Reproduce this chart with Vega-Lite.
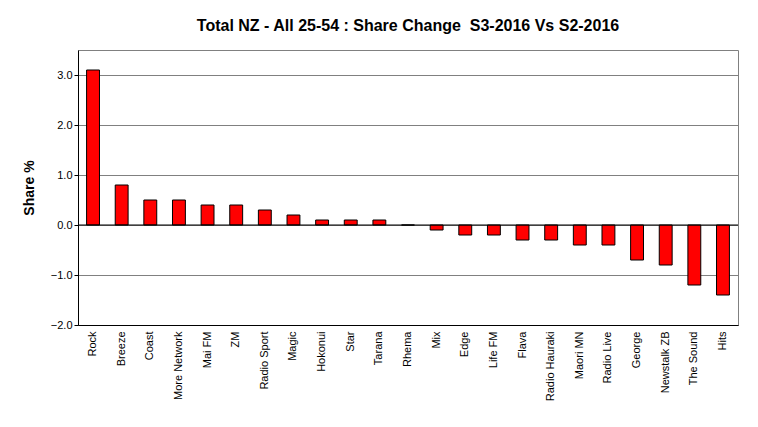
{
"$schema":"https://vega.github.io/schema/vega-lite/v6.json",
"width":660,"height":275,
"autosize":"none",
"padding":{"left":78,"top":50,"right":20,"bottom":102},
"background":"white",
"title":{"text":"Total NZ - All 25-54 : Share Change \u00a0S3-2016 Vs S2-2016","font":"Liberation Sans","fontSize":16,"fontWeight":"bold","offset":16,"anchor":"middle","color":"black"},
"data":{"values":[
{"s":"Rock","v":3.1},{"s":"Breeze","v":0.8},{"s":"Coast","v":0.5},{"s":"More Network","v":0.5},{"s":"Mai FM","v":0.4},{"s":"ZM","v":0.4},{"s":"Radio Sport","v":0.3},{"s":"Magic","v":0.2},{"s":"Hokonui","v":0.1},{"s":"Star","v":0.1},{"s":"Tarana","v":0.1},{"s":"Rhema","v":0},{"s":"Mix","v":-0.1},{"s":"Edge","v":-0.2},{"s":"Life FM","v":-0.2},{"s":"Flava","v":-0.3},{"s":"Radio Hauraki","v":-0.3},{"s":"Maori MN","v":-0.4},{"s":"Radio Live","v":-0.4},{"s":"George","v":-0.7},{"s":"Newstalk ZB","v":-0.8},{"s":"The Sound","v":-1.2},{"s":"Hits","v":-1.4}
]},
"config":{"view":{"stroke":"#808080"},"axis":{"labelFont":"Liberation Sans","titleFont":"Liberation Sans","labelColor":"black","domainColor":"black","tickColor":"black"}},
"layer":[
{"mark":{"type":"bar","color":"#ff0000","stroke":"black","strokeWidth":1},
"encoding":{
"x":{"field":"s","type":"nominal","sort":null,"scale":{"paddingInner":0.55,"paddingOuter":0.3},
"axis":{"title":null,"labelAngle":-90,"labelFontSize":11,"labelPadding":6,"ticks":false}},
"y":{"field":"v","type":"quantitative","scale":{"domain":[-2,3.5],"nice":false},
"axis":{"title":"Share  %","titleFontSize":14,"titleFontWeight":"bold","titleColor":"black","titlePadding":14,"tickCount":11,"values":[-2,-1.5,-1,-0.5,0,0.5,1,1.5,2,2.5,3,3.5],"labelOverlap":false,"labelFlush":false,"format":".1f","labelFontSize":11,"gridColor":"#808080","gridWidth":1,"tickSize":4}}}},
{"mark":{"type":"rule","color":"black"},"data":{"values":[{"z":0}]},"encoding":{"y":{"field":"z","type":"quantitative"}}}
]
}
